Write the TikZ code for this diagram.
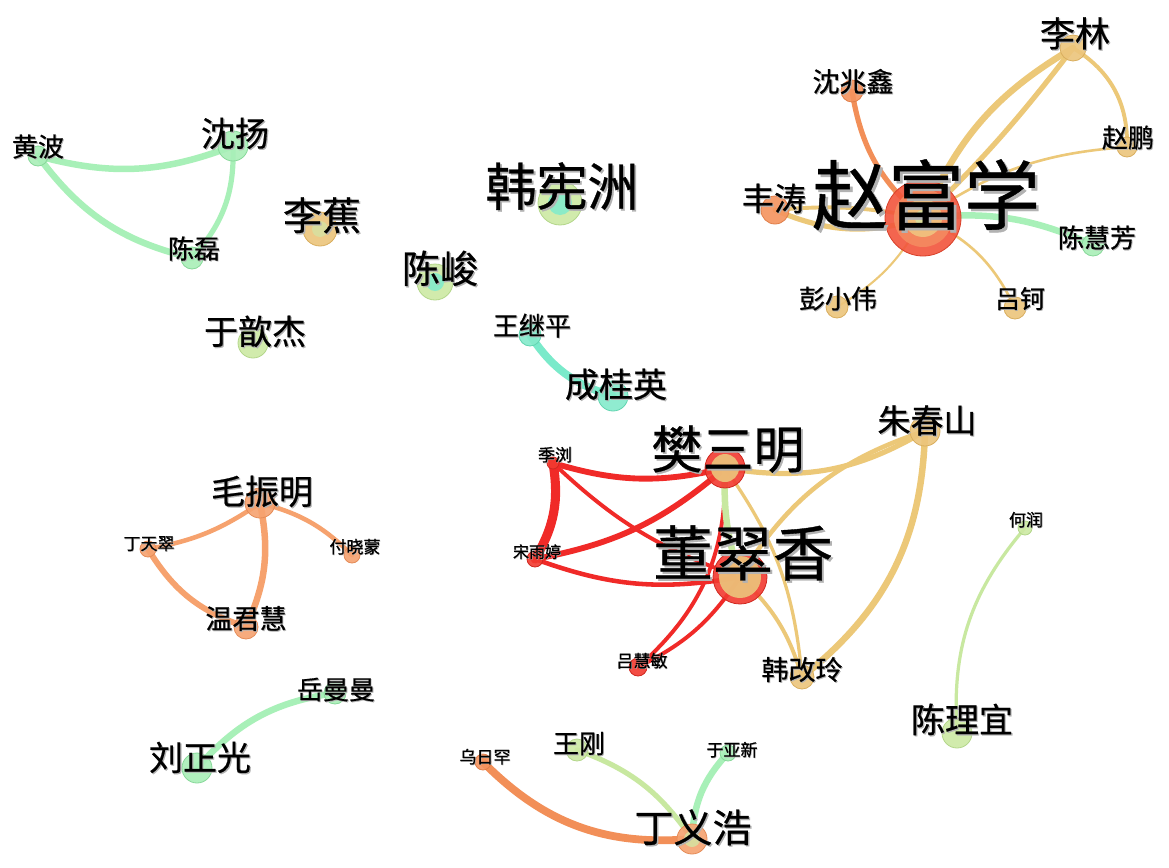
\documentclass[tikz,border=0pt]{standalone}
\usepackage{fontspec}
\newfontfamily\cjk[FakeBold=0.6]{Noto Sans CJK SC}
\usetikzlibrary{calc}
\pgfdeclarelayer{bg}
\pgfdeclarelayer{edges}
\pgfsetlayers{bg,edges,main}
\definecolor{cred}{HTML}{F2553C}
\definecolor{cdred}{HTML}{D8402A}
\definecolor{corg}{HTML}{F58A60}
\definecolor{cyel}{HTML}{F0C480}
\definecolor{cyg}{HTML}{D8E0A0}
\definecolor{nY}{HTML}{ECC57C}
\definecolor{nYb}{HTML}{D9AE5E}
\definecolor{nO}{HTML}{F5935E}
\definecolor{nOb}{HTML}{E07F4A}
\definecolor{nO2}{HTML}{F6A270}
\definecolor{nO2b}{HTML}{E58C58}
\definecolor{nG}{HTML}{A9EFB8}
\definecolor{nGb}{HTML}{88D89A}
\definecolor{nLG}{HTML}{CDE9A3}
\definecolor{nLGb}{HTML}{B3D68A}
\definecolor{nT}{HTML}{84EBCB}
\definecolor{nTb}{HTML}{62D4B0}
\definecolor{nR}{HTML}{F23A30}
\definecolor{nRb}{HTML}{D02820}
\definecolor{eY}{HTML}{ECC878}
\definecolor{eO}{HTML}{F28F58}
\definecolor{eO2}{HTML}{F6A26E}
\definecolor{eG}{HTML}{A8F0B8}
\definecolor{eLG}{HTML}{C8E8A0}
\definecolor{eT}{HTML}{7AEACA}
\definecolor{eR}{HTML}{F02A28}
\newcommand{\sh}[1]{\makebox[0pt][l]{\kern0.035em\raisebox{-0.035em}{\textcolor{black!30}{#1}}}#1}
\tikzset{
  nd/.style={circle, inner sep=0pt, minimum size={2*#1}, fill opacity=0.9, line width=0.8pt},
  ny/.style={nd=#1, fill=nY, draw=nYb},
  no/.style={nd=#1, fill=nO, draw=nOb},
  noo/.style={nd=#1, fill=nO2, draw=nO2b},
  ng/.style={nd=#1, fill=nG, draw=nGb},
  nlg/.style={nd=#1, fill=nLG, draw=nLGb},
  nt/.style={nd=#1, fill=nT, draw=nTb},
  nr/.style={nd=#1, fill=nR, draw=nRb},
  inner/.style={nd=#1, draw=none},
  lab/.style={inner sep=0pt, text=black, font=\cjk\fontsize{#1}{#1}\selectfont},
  ed/.style={line width={1.3*#1}, line cap=round},
}
\begin{document}
\begin{tikzpicture}[x=1pt, y=-1pt]
\begin{pgfonlayer}{bg}
\fill[white] (0,0) rectangle (1169,867);
\end{pgfonlayer}
\useasboundingbox (0,0) rectangle (1169,867);

% ---------- circles ----------
% Zhao cluster
\node[nd=38, fill=cred, draw=cdred] (zfx) at (923,218) {};
\node[inner=29, fill=corg] (zfxa) at (zfx) {};
\node[inner=19, fill=cyel] (zfxb) at (zfx) {};
\node[inner=8, fill=cyg] (zfxc) at (zfx) {};
\node[ny=13] (ll) at (1073,48) {};
\node[no=11] (szx) at (852,91) {};
\node[ny=10] (zp) at (1127,147) {};
\node[no=14] (ft) at (775,210) {};
\node[ng=11] (chf) at (1093,245) {};
\node[ny=11] (pxw) at (837,307) {};
\node[ny=11] (lk) at (1015,308) {};
% left cluster
\node[ng=10] (hb) at (38,156) {};
\node[ng=15] (sy) at (233,146) {};
\node[ng=11] (cl) at (192,258) {};
\node[nd=17, fill=nY, draw=nYb] (lj) at (320,229) {};
\node[inner=8, fill=cyg] (lja) at (lj) {};
\node[nlg=15] (yxj) at (253,343) {};
\node[nd=22, fill=nLG, draw=nLGb] (hxz) at (560,203) {};
\node[inner=12, fill=nT] (hxza) at (hxz) {};
\node[nd=18, fill=nLG, draw=nLGb] (cj) at (435,282) {};
\node[inner=9, fill=nT] (cja) at (cj) {};
\node[nt=11] (wjp) at (530,335) {};
\node[nt=15] (cgy) at (613,396) {};
% middle cluster
\node[nd=20, fill=nR, draw=nRb] (fsm) at (725,468) {};
\node[inner=14, fill=nY] (fsma) at (fsm) {};
\node[nd=27, fill=nR, draw=nRb] (dcx) at (740,577) {};
\node[inner=21, fill=nY] (dcxa) at (dcx) {};
\node[nr=6] (jl) at (553,463) {};
\node[nr=8] (syt) at (535,559) {};
\node[nr=9] (lhm) at (638,667) {};
\node[ny=15] (zcs) at (925,431) {};
\node[ny=12] (hgl) at (802,677) {};
% Mao cluster
\node[noo=15] (mzm) at (260,503) {};
\node[noo=8] (dtc) at (148,549) {};
\node[noo=8] (fxm) at (352,555) {};
\node[noo=12] (wjh) at (246,627) {};
% Liu
\node[ng=11] (ymm) at (335,693) {};
\node[ng=15] (lzg) at (197,768) {};
% bottom
\node[nd=8, fill=nO, draw=nOb] (wrh) at (483,762) {};
\node[nlg=11] (wg) at (577,750) {};
\node[ng=8] (yyx) at (728,753) {};
\node[nd=15, fill=nO2, draw=nO2b] (dyh) at (692,839) {};
\node[inner=8, fill=cyg] (dyha) at (dyh) {};
% right
\node[nlg=7] (hr) at (1025,528) {};
\node[nlg=15] (cly) at (957,733) {};

% ---------- edges ----------
\begin{pgfonlayer}{edges}
\draw[ed=5, eY] (zfx.center) to[bend left=18] (ll.center);
\draw[ed=4, eY] (zfx.center) to[bend right=4] (ll.center);
\draw[ed=3, eY] (ll.center) to[bend left=30] (zp.center);
\draw[ed=2, eY] (zfx.center) to[bend left=15] (zp.center);
\draw[ed=4, eO] (szx.center) to[bend right=20] (zfx.center);
\draw[ed=3, eY] (ft.center) to[bend left=8] (zfx.center);
\draw[ed=4, eY] (ft.center) to[bend right=20] (zfx.center);
\draw[ed=5, eG] (zfx.center) to[bend left=15] (chf.center);
\draw[ed=1.6, eY] (zfx.center) to[bend left=15] (pxw.center);
\draw[ed=2, eY] (zfx.center) to[bend left=20] (lk.center);

\draw[ed=5, eG] (hb.center) to[bend right=18] (sy.center);
\draw[ed=5, eG] (hb.center) to[bend right=20] (cl.center);
\draw[ed=4, eG] (sy.center) to[bend left=22] (cl.center);

\draw[ed=6, eT] (wjp.center) to[bend right=20] (cgy.center);

\draw[ed=4.5, eR] (jl.center) to[bend right=15] (fsm.center);
\draw[ed=7, eR] (jl.center) to[bend left=20] (syt.center);
\draw[ed=3, eR] (jl.center) to[bend right=12] (dcx.center);
\draw[ed=4.5, eR] (syt.center) to[bend right=15] (fsm.center);
\draw[ed=3.5, eR] (syt.center) to[bend right=15] (dcx.center);
\draw[ed=3, eR] (fsm.center) to[bend left=25] (lhm.center);
\draw[ed=3, eR] (dcx.center) to[bend left=15] (lhm.center);
\draw[ed=5, eLG] (fsm.center) to[bend right=10] (dcx.center);

\draw[ed=4, eY] (fsm.center) to[bend right=20] (zcs.center);
\draw[ed=3.5, eY] (dcx.center) to[bend left=20] (zcs.center);
\draw[ed=2.5, eY] (fsm.center) to[bend left=15] (hgl.center);
\draw[ed=3, eY] (dcx.center) to[bend left=15] (hgl.center);
\draw[ed=5, eY] (zcs.center) to[bend left=25] (hgl.center);

\draw[ed=3.5, eO2] (mzm.center) to[bend left=12] (dtc.center);
\draw[ed=3.5, eO2] (mzm.center) to[bend left=15] (fxm.center);
\draw[ed=5, eO2] (mzm.center) to[bend left=18] (wjh.center);
\draw[ed=4.5, eO2] (dtc.center) to[bend right=20] (wjh.center);

\draw[ed=5, eG] (lzg.center) to[bend left=20] (ymm.center);

\draw[ed=6, eO] (wrh.center) to[bend right=25] (dyh.center);
\draw[ed=4, eLG] (wg.center) to[bend left=18] (dyh.center);
\draw[ed=5, eG] (yyx.center) to[bend right=20] (dyh.center);

\draw[ed=2.5, eLG] (hr.center) to[bend right=22] (cly.center);
\end{pgfonlayer}

% ---------- labels ----------
\node[lab=76] (l-zfx) at (926,196) {\sh{赵富学}};
\node[lab=32] (l-ft) at (774,199) {\sh{丰涛}};
\node[lab=35] (l-ll) at (1075,34) {\sh{李林}};
\node[lab=27] (l-szx) at (853,82) {\sh{沈兆鑫}};
\node[lab=26] (l-zp) at (1128,138) {\sh{赵鹏}};
\node[lab=26] (l-chf) at (1097,238) {\sh{陈慧芳}};
\node[lab=26] (l-pxw) at (838,299) {\sh{彭小伟}};
\node[lab=25] (l-lk) at (1020,299) {\sh{吕钶}};
\node[lab=26] (l-hb) at (38,147) {\sh{黄波}};
\node[lab=34] (l-sy) at (235,134) {\sh{沈扬}};
\node[lab=26] (l-cl) at (194,249) {\sh{陈磊}};
\node[lab=39] (l-lj) at (322,216) {\sh{李蕉}};
\node[lab=34] (l-yxj) at (255,332) {\sh{于歆杰}};
\node[lab=51] (l-hxz) at (562,187) {\sh{韩宪洲}};
\node[lab=38] (l-cj) at (440,269) {\sh{陈峻}};
\node[lab=26] (l-wjp) at (532,326) {\sh{王继平}};
\node[lab=34] (l-cgy) at (616,385) {\sh{成桂英}};
\node[lab=51] (l-fsm) at (728,450) {\sh{樊三明}};
\node[lab=60] (l-dcx) at (743,554) {\sh{董翠香}};
\node[lab=17] (l-jl) at (555,455) {\sh{季浏}};
\node[lab=16] (l-syt) at (537,552) {\sh{宋雨婷}};
\node[lab=17] (l-lhm) at (642,661) {\sh{吕慧敏}};
\node[lab=33] (l-zcs) at (927,421) {\sh{朱春山}};
\node[lab=27] (l-hgl) at (802,670) {\sh{韩改玲}};
\node[lab=34] (l-mzm) at (262,492) {\sh{毛振明}};
\node[lab=17] (l-dtc) at (149,544) {\sh{丁天翠}};
\node[lab=17] (l-fxm) at (355,547) {\sh{付晓蒙}};
\node[lab=27] (l-wjh) at (246,619) {\sh{温君慧}};
\node[lab=26] (l-ymm) at (336,690) {\sh{岳曼曼}};
\node[lab=34] (l-lzg) at (200,758) {\sh{刘正光}};
\node[lab=17] (l-wrh) at (485,757) {\sh{乌日罕}};
\node[lab=26] (l-wg) at (579,744) {\sh{王刚}};
\node[lab=17] (l-yyx) at (732,750) {\sh{于亚新}};
\node[lab=39] (l-dyh) at (693,828) {\sh{丁义浩}};
\node[lab=17] (l-hr) at (1026,520) {\sh{何润}};
\node[lab=34] (l-cly) at (962,720) {\sh{陈理宜}};
\end{tikzpicture}
\end{document}
